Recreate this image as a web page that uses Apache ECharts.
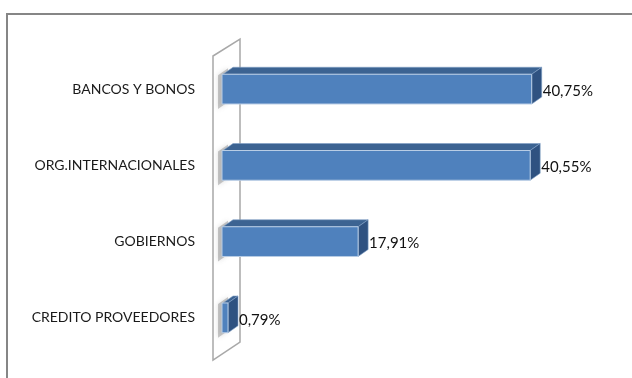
<!DOCTYPE html>
<html>
<head>
<meta charset="utf-8">
<script src="https://cdn.jsdelivr.net/npm/echarts@6/dist/echarts.min.js"></script>
<style>
  html, body { margin: 0; padding: 0; background: #fff; }
  #chart { width: 632px; height: 378px; }
</style>
</head>
<body>
<div id="chart"></div>
<script>
const categories = ['BANCOS Y BONOS', 'ORG.INTERNACIONALES', 'GOBIERNOS', 'CREDITO PROVEEDORES']
const values = [40.75, 40.55, 17.91, 0.79]
const valueLabels = ['40,75%', '40,55%', '17,91%', '0,79%']

const chart = echarts.init(document.getElementById('chart'))

// profundidad del efecto 3D
const DX = 10
const DY = -7

const front = '#4f81bd'
const topFace = '#3c6392'
const sideFace = '#2f5281'

function renderBar(params, api) {
  const idx = api.value(1)
  const start = api.coord([0, idx])
  const end = api.coord([api.value(0), idx])
  const h = api.size([0, 1])[1] * 0.39
  const x0 = start[0]
  const x1 = end[0]
  const y0 = end[1] - h / 2
  const y1 = end[1] + h / 2
  return {
    type: 'group',
    children: [
      // sombra sobre la pared
      {
        type: 'polygon',
        shape: { points: [[x0 - 4, y0 + 1], [x0 + DX - 4, y0 + DY + 1], [x0 + DX - 4, y1 + DY + 5], [x0 - 4, y1 + 5]] },
        style: { fill: 'rgba(110,110,110,0.35)', shadowBlur: 5, shadowColor: 'rgba(90,90,90,0.6)' },
      },
      {
        type: 'polygon',
        shape: { points: [[x0 + 1, y0], [x0 + 1 + DX, y0 + DY], [x1 + DX, y0 + DY], [x1, y0]] },
        style: { fill: topFace, stroke: '#7f9fc6', lineWidth: 0.6 },
      },
      {
        type: 'polygon',
        shape: { points: [[x1, y0], [x1 + DX, y0 + DY], [x1 + DX, y1 + DY], [x1, y1]] },
        style: { fill: sideFace, stroke: '#7f9fc6', lineWidth: 0.6 },
      },
      {
        type: 'rect',
        shape: { x: x0, y: y0, width: x1 - x0, height: h },
        style: { fill: front, stroke: '#b9cde5', lineWidth: 1 },
      },
      {
        type: 'text',
        x: x1 + DX + 1,
        y: end[1] + 2,
        style: {
          text: valueLabels[params.dataIndex],
          fill: '#111',
          font: '15px Lato',
          verticalAlign: 'middle',
          align: 'left',
        },
      },
    ],
  }
}

const option = {
  animation: false,
  graphic: [
    {
      type: 'rect',
      shape: { x: 7, y: 14, width: 700, height: 500 },
      style: { fill: 'none', stroke: '#868686', lineWidth: 2 },
      z: -10,
    },
    {
      type: 'polygon',
      shape: { points: [[213, 56], [240, 39], [240, 342], [213, 360]] },
      style: { fill: '#fff', stroke: '#a8a8a8', lineWidth: 1.5 },
      z: -5,
    },
  ],
  grid: {
    left: 222,
    right: 30,
    top: 51,
    bottom: 22,
  },
  xAxis: {
    type: 'value',
    min: 0,
    max: 50,
    show: false,
  },
  yAxis: {
    type: 'category',
    data: categories,
    inverse: true,
    axisLine: { show: false },
    axisTick: { show: false },
    axisLabel: {
      color: '#1a1a1a',
      fontFamily: 'Lato',
      fontSize: 14,
      margin: 27,
      padding: [14, 0, 0, 0],
    },
  },
  series: [
    {
      type: 'custom',
      renderItem: renderBar,
      encode: { x: 0, y: 1 },
      data: values.map((v, i) => [v, i]),
    },
  ],
}

chart.setOption(option)
</script>
</body>
</html>
